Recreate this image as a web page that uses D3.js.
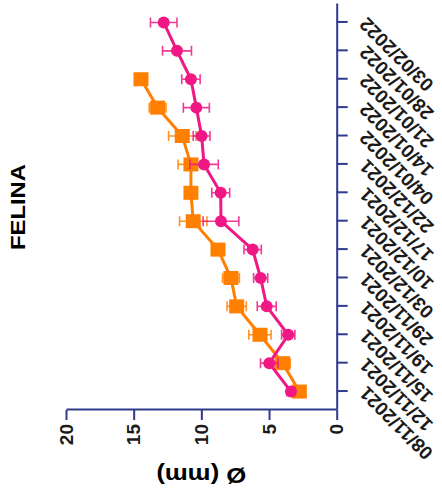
<!DOCTYPE html>
<html>
<head>
<meta charset="utf-8">
<script src="https://cdn.jsdelivr.net/npm/d3@7"></script>
<style>
    body { margin: 0; background: #fff; }
</style>
</head>
<body>
<script>
const dates = ["08/11/2021", "12/11/2021", "15/11/2021", "19/11/2021", "29/11/2021",
    "03/12/2021", "10/12/2021", "17/12/2021", "22/12/2021", "04/01/2022",
    "14/01/2022", "21/01/2022", "28/01/2022", "03/02/2022"];
const valueTicks = [0, 5, 10, 15, 20];

// circles (pink)
const roundMean = [3.38, 4.98, 3.58, 5.17, 5.62, 6.21, 8.55, 8.57, 9.8, 9.98, 10.37, 10.77, 11.8, 12.78];
const roundSd = [0.3, 0.65, 0.49, 0.7, 0.52, 0.64, 1.32, 0.66, 1.05, 0.62, 0.96, 0.68, 1.07, 0.98];
// squares (orange)
const squareMean = [2.76, 3.99, 5.67, 7.39, 7.81, 8.77, 10.6, 10.77, 10.77, 11.41, 13.23, 14.46, null, null];
const squareSd = [0.2, 0.55, 0.82, 0.71, 0.62, 0.3, 1.01, 0.3, 0.95, 1.01, 0.62, 0.3, null, null];

const wb = 442;
const hb = 493;
const navy = "#2E3A8C";
const pink = "#F01884";
const orange = "#FF8000";
const font = "'Liberation Sans', Arial, sans-serif";

const svg = d3.select("body")
    .append("svg")
    .attr("width", wb)
    .attr("height", hb);

// laid out as an ordinary plot, then turned a quarter turn to the left
const plot = svg.append("g")
    .attr("transform", `translate(0, ${hb}) rotate(-90)`);

const axisLeftPos = 83;
const x = d3.scalePoint()
    .domain(dates)
    .range([83, 489])
    .padding(0.65);
const y = d3.scaleLinear()
    .domain([0, 20])
    .range([336.7, 66]);

// category axis
const xAxis = plot.append("g")
    .attr("transform", `translate(0, ${y(0)})`)
    .call(d3.axisBottom(x).tickSize(11).tickSizeOuter(0));
xAxis.selectAll("text")
    .attr("x", 0)
    .attr("y", 0)
    .attr("dy", "0.35em")
    .attr("text-anchor", "end")
    .attr("transform", "translate(1, 26) rotate(-45)");

// value axis
const yAxis = plot.append("g")
    .attr("transform", `translate(${axisLeftPos}, 0)`)
    .call(d3.axisLeft(y).tickValues(valueTicks).tickSize(10).tickSizeOuter(0).tickPadding(4));

[xAxis, yAxis].forEach(ax => {
    ax.selectAll("path, line")
        .attr("stroke", navy)
        .attr("stroke-width", 2);
    ax.selectAll("text")
        .attr("fill", "#1a1a1a")
        .attr("font-family", font)
        .attr("font-weight", "bold")
        .attr("font-size", 19);
});

const drawSeries = (means, sds, colour, shape) => {
    const pts = dates.map((d, i) => ({ d, m: means[i], s: sds[i] }))
        .filter(p => p.m != null);
    const g = plot.append("g");

    // error bars
    const eb = g.append("g")
        .attr("stroke", colour)
        .attr("stroke-width", 1.6)
        .attr("fill", "none")
        .attr("opacity", 0.85);
    eb.selectAll("path")
        .data(pts)
        .join("path")
        .attr("d", p => {
            const cx = x(p.d);
            const lo = y(p.m - p.s);
            const hi = y(p.m + p.s);
            return `M${cx},${lo}V${hi}M${cx - 5},${lo}H${cx + 5}M${cx - 5},${hi}H${cx + 5}`;
        });

    g.append("path")
        .datum(pts)
        .attr("fill", "none")
        .attr("stroke", colour)
        .attr("stroke-width", 3)
        .attr("d", d3.line().x(p => x(p.d)).y(p => y(p.m)));

    if (shape === "circle")
        g.selectAll("circle")
            .data(pts)
            .join("circle")
            .attr("cx", p => x(p.d))
            .attr("cy", p => y(p.m))
            .attr("r", 6)
            .attr("fill", colour);
    else
        g.selectAll("rect")
            .data(pts)
            .join("rect")
            .attr("x", p => x(p.d) - 7)
            .attr("y", p => y(p.m) - 7.5)
            .attr("width", 14)
            .attr("height", 15)
            .attr("fill", colour);
};

drawSeries(squareMean, squareSd, orange, "square");
drawSeries(roundMean, roundSd, pink, "circle");

// title
plot.append("text")
    .attr("x", (x.range()[0] + x.range()[1]) / 2)
    .attr("y", 25)
    .attr("text-anchor", "middle")
    .attr("font-family", font)
    .attr("font-weight", "bold")
    .attr("font-size", 20)
    .attr("textLength", 86)
    .attr("lengthAdjust", "spacingAndGlyphs")
    .attr("fill", "#000")
    .text("FELINA");

// value axis title
plot.append("text")
    .attr("transform", `translate(25.3, ${y(10)}) rotate(-90)`)
    .attr("text-anchor", "middle")
    .attr("font-family", font)
    .attr("font-weight", "bold")
    .attr("font-size", 22)
    .attr("textLength", 90)
    .attr("lengthAdjust", "spacingAndGlyphs")
    .attr("fill", "#000")
    .text("Ø (mm)");
</script>
</body>
</html>
